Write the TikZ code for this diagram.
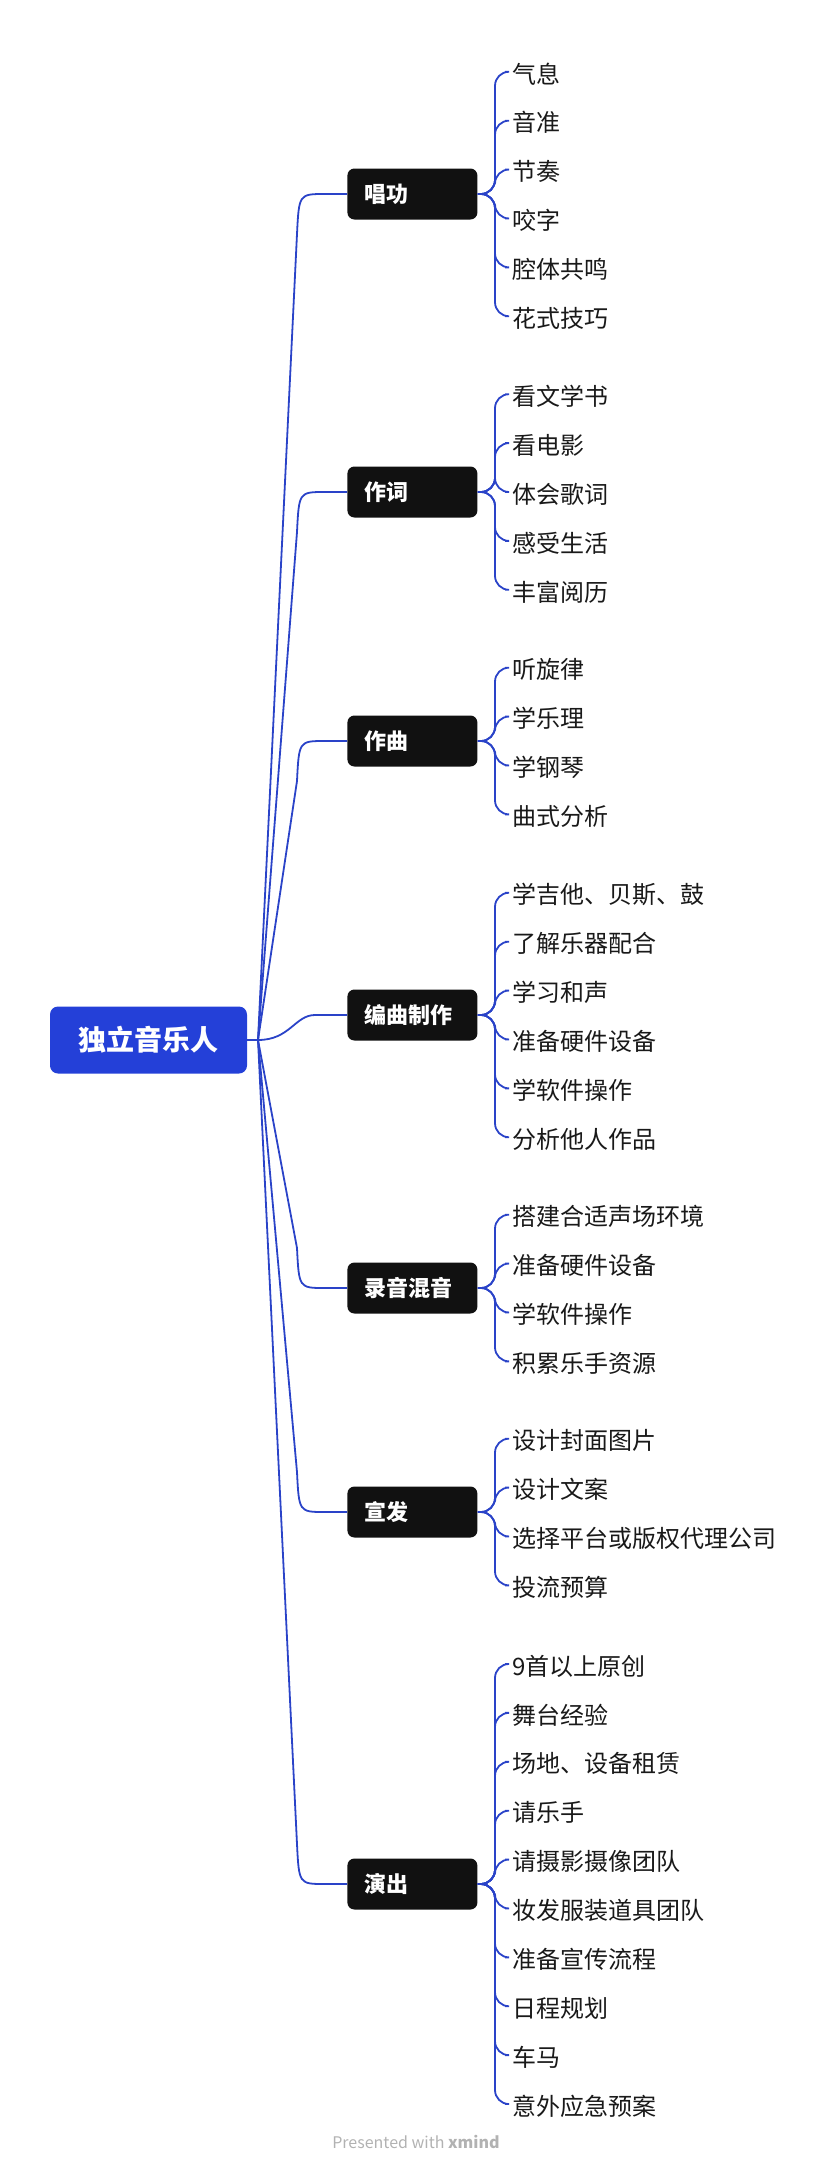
\documentclass[tikz,border=0pt]{standalone}
\usepackage{fontspec}
\setmainfont{Noto Sans CJK SC}
\definecolor{lineblue}{HTML}{2A43C8}
\definecolor{rootblue}{HTML}{2440D8}
\definecolor{boxblack}{HTML}{111111}
\tikzset{
  rootbox/.style={fill=rootblue,rounded corners=4pt,text=white,font=\fontsize{14}{16}\selectfont\bfseries,minimum width=98.5pt,minimum height=33.5pt,inner sep=0pt},
  brbox/.style={fill=boxblack,rounded corners=3.5pt,text=white,font=\fontsize{11}{13}\selectfont\bfseries,text width=48pt,inner xsep=8.5pt,minimum height=25.5pt,inner ysep=0pt,align=left,anchor=west},
  leaf/.style={anchor=west,font=\fontsize{12}{14}\selectfont,inner sep=0pt,text=black!90},
  conn/.style={draw=lineblue,line width=0.9pt},
}
\begin{document}
\begin{tikzpicture}[x=0.5pt,y=-0.5pt]
\useasboundingbox (0,0) rectangle (832,2180);
\node[rootbox] (root) at (148.5,1040) {独立音乐人};
\coordinate (hub) at (258,1040);
\draw[conn] (root.east) -- (hub);
\foreach \id/\yb/\txt/\kids in {
  a/194/唱功/{气息,音准,节奏,咬字,腔体共鸣,花式技巧},
  b/492/作词/{看文学书,看电影,体会歌词,感受生活,丰富阅历},
  c/741/作曲/{听旋律,学乐理,学钢琴,曲式分析},
  d/1015/编曲制作/{学吉他、贝斯、鼓,了解乐器配合,学习和声,准备硬件设备,学软件操作,分析他人作品},
  e/1288/录音混音/{搭建合适声场环境,准备硬件设备,学软件操作,积累乐手资源},
  f/1512/宣发/{设计封面图片,设计文案,选择平台或版权代理公司,投流预算},
  g/1884/演出/{9首以上原创,舞台经验,场地、设备租赁,请乐手,请摄影摄像团队,妆发服装道具团队,准备宣传流程,日程规划,车马,意外应急预案}}{
  \node[brbox] (\id) at (347,\yb) {\txt};
  \pgfmathsetmacro{\dy}{\yb>1040 ? 1 : -1}
  \ifdim\yb pt=1015pt
    \draw[conn] (hub) .. controls (290,1040) and (295,\yb) .. (315,\yb) -- (\id.west);
  \else
    \draw[conn] (hub) -- (297,\yb-\dy*40) .. controls (299,\yb) .. (325,\yb) -- (\id.west);
  \fi
  \foreach \k [count=\i] in \kids { \xdef\nk{\i} }
  \foreach \k [count=\i] in \kids {
    \pgfmathsetmacro{\yc}{\yb+(\i-(\nk+1)/2)*48.9}
    \node[leaf] (\id\i) at (512,\yc+2) {\k};
    \draw[conn,rounded corners=7pt] (\id.east) -- (495,\yb) -- (495,\yc) -- (505,\yc);
  }
}
\node[font=\fontsize{8}{10}\selectfont,text=black!30] (foot) at (416,2142) {Presented with \textbf{xmind}};
\end{tikzpicture}
\end{document}
